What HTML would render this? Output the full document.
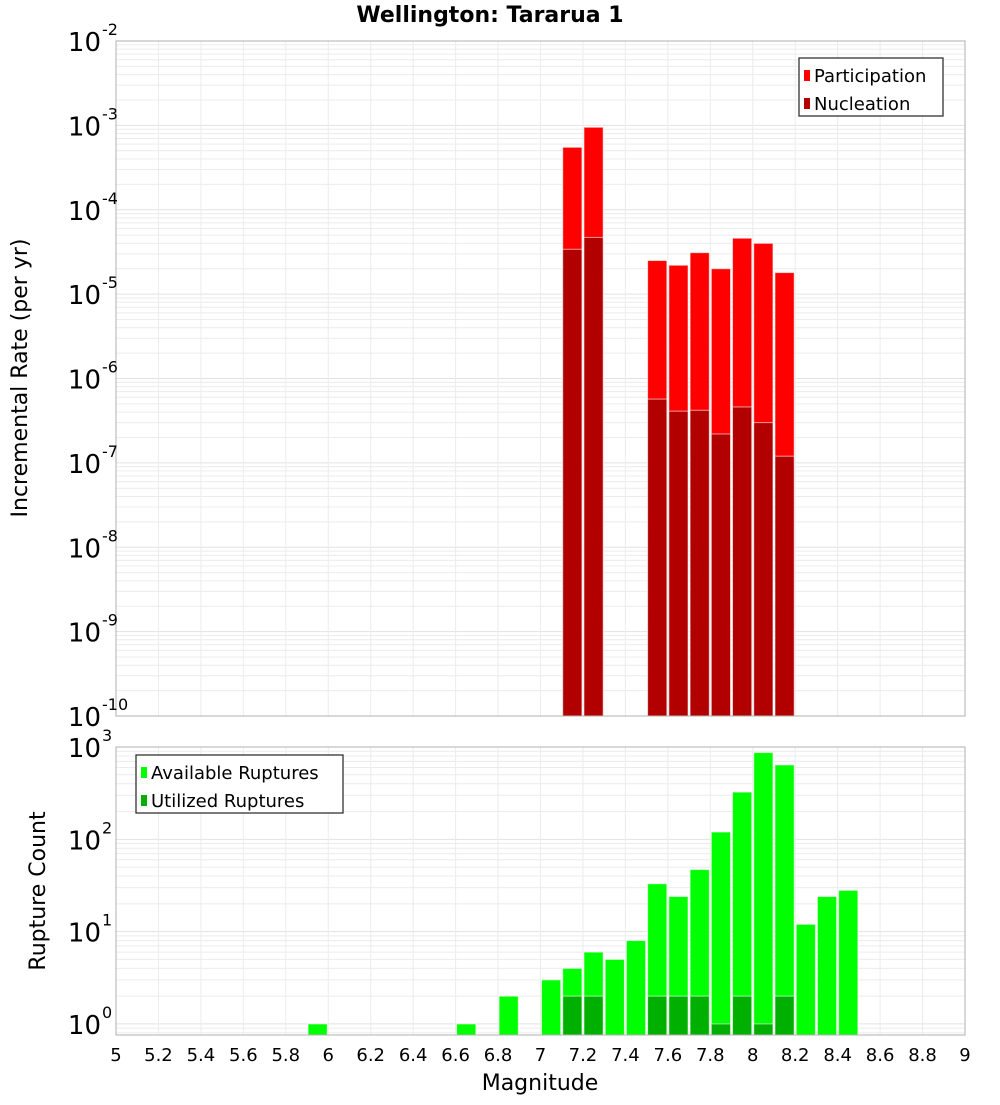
<!DOCTYPE html>
<html><head><meta charset="utf-8"><style>
html,body{margin:0;padding:0;background:#fff;}
svg text{font-family:"DejaVu Sans","Liberation Sans",sans-serif;}
</style></head><body>
<svg id="chart" width="1000" height="1100" xmlns="http://www.w3.org/2000/svg">
<text x="490" y="22" text-anchor="middle" font-size="22" font-weight="bold">Wellington: Tararua 1</text>
<g id="topplot"></g>
<g id="botplot"></g>
<text transform="translate(27,378) rotate(-90)" text-anchor="middle" font-size="22">Incremental Rate (per yr)</text>
<text transform="translate(45,891) rotate(-90)" text-anchor="middle" font-size="22">Rupture Count</text>
<text x="540" y="1090" text-anchor="middle" font-size="22">Magnitude</text>
</svg>
<script>
const rateMags = [7.1,7.2,7.5,7.6,7.7,7.8,7.9,8.0,8.1];
const participation = [5.5e-4,9.5e-4,2.5e-5,2.2e-5,3.1e-5,2.0e-5,4.6e-5,4.0e-5,1.8e-5];
const nucleation = [3.4e-5,4.7e-5,5.7e-7,4.1e-7,4.2e-7,2.2e-7,4.6e-7,3.0e-7,1.2e-7];
const countMags = [5.9,6.6,6.8,7.0,7.1,7.2,7.3,7.4,7.5,7.6,7.7,7.8,7.9,8.0,8.1,8.2,8.3,8.4];
const available = [1,1,2,3,4,6,5,8,33,24,47,120,325,870,640,12,24,28];
const utilized = [0,0,0,0,2,2,0,0,2,2,2,1,2,1,2,0,0,0];
const xTicks = [5,5.2,5.4,5.6,5.8,6,6.2,6.4,6.6,6.8,7,7.2,7.4,7.6,7.8,8,8.2,8.4,8.6,8.8,9];

const NS="http://www.w3.org/2000/svg";
function mk(p,tag,attrs){const e=document.createElementNS(NS,tag);for(const k in attrs)e.setAttribute(k,attrs[k]);p.appendChild(e);return e;}
const L=116,R=965;
const xs=m=>L+(m-5)/4*(R-L);
function yTop(v){return 41+(-2-Math.log10(v))*(716-41)/8;}
function yBot(v){return 1035-(Math.log10(v)+0.12)*92.3;}

function grid(g,t0,b0,ylo,yhi,yf){
  mk(g,'rect',{x:L,y:t0,width:R-L,height:b0-t0,fill:'#fff'});
  for(let d=ylo;d<yhi;d++){for(let k=1;k<10;k++){const v=k*Math.pow(10,d);const y=yf(v);if(y<t0||y>b0)continue;
    mk(g,'line',{x1:L,x2:R,y1:y,y2:y,stroke:k==1?'#e2e2e2':'#ececec','stroke-width':1});}}
  const y=yf(Math.pow(10,yhi)); if(y>=t0) mk(g,'line',{x1:L,x2:R,y1:y,y2:y,stroke:'#e2e2e2'});
  xTicks.forEach(t=>{const x=xs(t);mk(g,'line',{x1:x,x2:x,y1:t0,y2:b0,stroke:'#ececec'});});
}
function bars(g,mags,vals,yf,b0,color,name){
  mags.forEach((m,i)=>{if(vals[i]<=0)return;const x=xs(m)+1,w=xs(m+0.1)-xs(m)-2,y=yf(vals[i]);
    const r=mk(g,'rect',{x:x,y:y,width:w,height:b0-y,fill:color,stroke:'rgba(255,255,255,0.6)','stroke-width':1});
    
    });
}
function ylabels(g,lo,hi,yf,xr){
  for(let d=lo;d<=hi;d++){const y=yf(Math.pow(10,d));
    const t=mk(g,'text',{x:xr,y:y+10,'text-anchor':'end','font-size':26});
    t.textContent='10';
    
    
    const s=mk(g,'text',{x:xr+1,y:y-6,'font-size':16});s.textContent=String(d);
    
    }
}
function legend(g,x,y,w,items){
  mk(g,'rect',{x:x,y:y,width:w,height:58,fill:'#fff',stroke:'#333','stroke-width':1.3});
  items.forEach((it,i)=>{const yy=y+18+i*28;
    mk(g,'rect',{x:x+5,y:yy-6,width:6,height:11,fill:it[1]});
    const t=mk(g,'text',{x:x+15,y:yy+6,'font-size':18});t.textContent=it[0];
    
    });
}
const topG=document.getElementById('topplot'),botG=document.getElementById('botplot');
grid(topG,41,716,-10,-2,yTop);
bars(topG,rateMags,participation,yTop,716,'#ff0000','participation-bar');
bars(topG,rateMags,nucleation,yTop,716,'#b20000','nucleation-bar');
mk(topG,'rect',{x:L,y:41,width:R-L,height:675,fill:'none',stroke:'#b0b0b0'});
ylabels(topG,-10,-2,yTop,101);
legend(topG,799,58,144,[['Participation','#ff0000'],['Nucleation','#b20000']]);

grid(botG,747,1035,-1,3,yBot);
bars(botG,countMags,available,yBot,1035,'#00ff00','available-bar');
bars(botG,countMags,utilized,yBot,1035,'#00b000','utilized-bar');
mk(botG,'rect',{x:L,y:747,width:R-L,height:288,fill:'none',stroke:'#b0b0b0'});
ylabels(botG,0,3,yBot,101);
legend(botG,136,755,207,[['Available Ruptures','#00ff00'],['Utilized Ruptures','#00b000']]);
xTicks.forEach(t=>{const e=mk(botG,'text',{x:xs(t),y:1061,'text-anchor':'middle','font-size':18});
  e.textContent=String(+t.toFixed(1));
  
  });
</script>
</body></html>
